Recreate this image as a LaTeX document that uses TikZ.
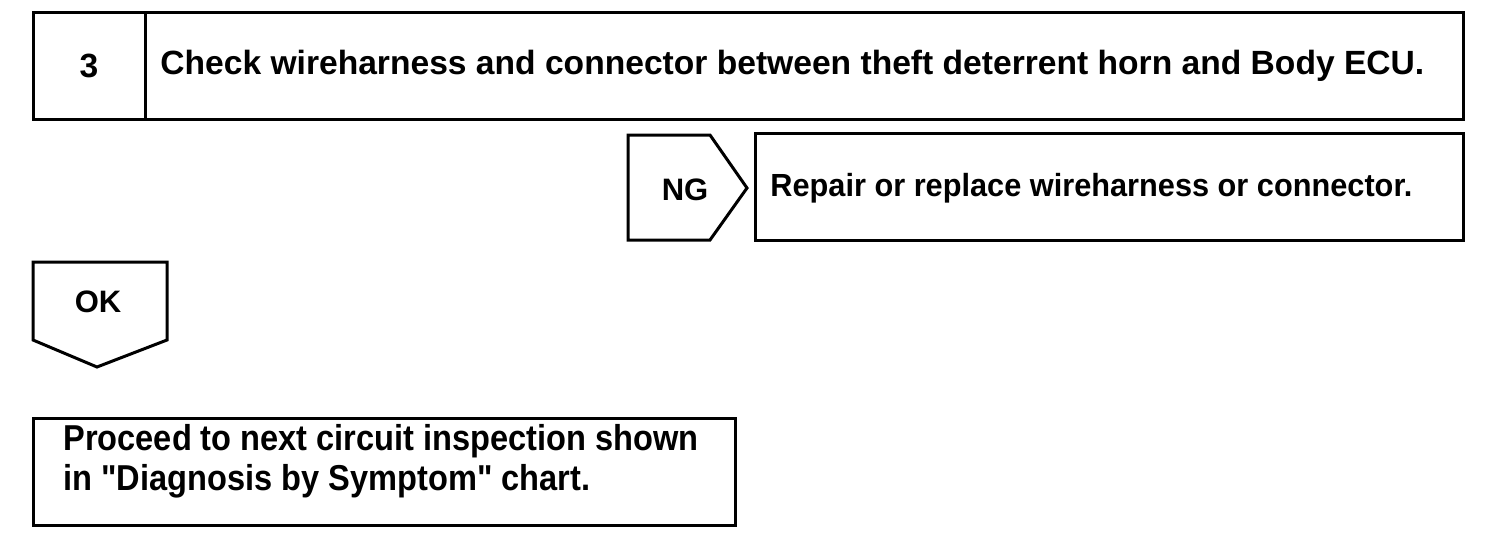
\documentclass[tikz,border=0pt]{standalone}
\usepackage{fontspec}
\setmainfont{Liberation Sans}[Ligatures=TeXOff]
\begin{document}
\begin{tikzpicture}[x=0.5pt,y=-0.5pt,
  frame/.style={draw=black,line width=1.5pt,line join=miter},
  bigtxt/.style={font=\bfseries\fontsize{16.8}{20}\selectfont,inner sep=0pt},
  midtxt/.style={font=\bfseries\fontsize{15.5}{18}\selectfont,inner sep=0pt},
]
\useasboundingbox (0,0) rectangle (1504,558);
% top box
\draw[frame] (33,12) rectangle (1463,119);
\draw[frame] (145,12) -- (145,119);
\node[bigtxt] (num) at (89,66) {3};
\node[bigtxt,anchor=west] (check) at (160,66) {Check wireharness and connector between theft deterrent horn and Body ECU.};
% NG
\draw[frame] (628,135) -- (710,135) -- (747,188) -- (710,240) -- (628,240) -- cycle;
\node[midtxt] (ng) at (685,190) {NG};
\draw[frame] (755,133) rectangle (1463,240);
\node[inner sep=0pt,anchor=west,xscale=0.96,font=\bfseries\fontsize{16}{19}\selectfont] (repair) at (770,188) {Repair or replace wireharness or connector.};
% OK
\draw[frame] (33,262) -- (167,262) -- (167,340) -- (97,367) -- (33,340) -- cycle;
\node[midtxt] (ok) at (98,302) {OK};
% bottom box
\draw[frame] (33,418) rectangle (735,525);
\node[inner sep=0pt,anchor=west,align=left,xscale=0.905,font=\bfseries\fontsize{18}{20}\selectfont] (proceed) at (63,461) {Proceed to next circuit inspection shown\\in "Diagnosis by Symptom" chart.};
\end{tikzpicture}
\end{document}
